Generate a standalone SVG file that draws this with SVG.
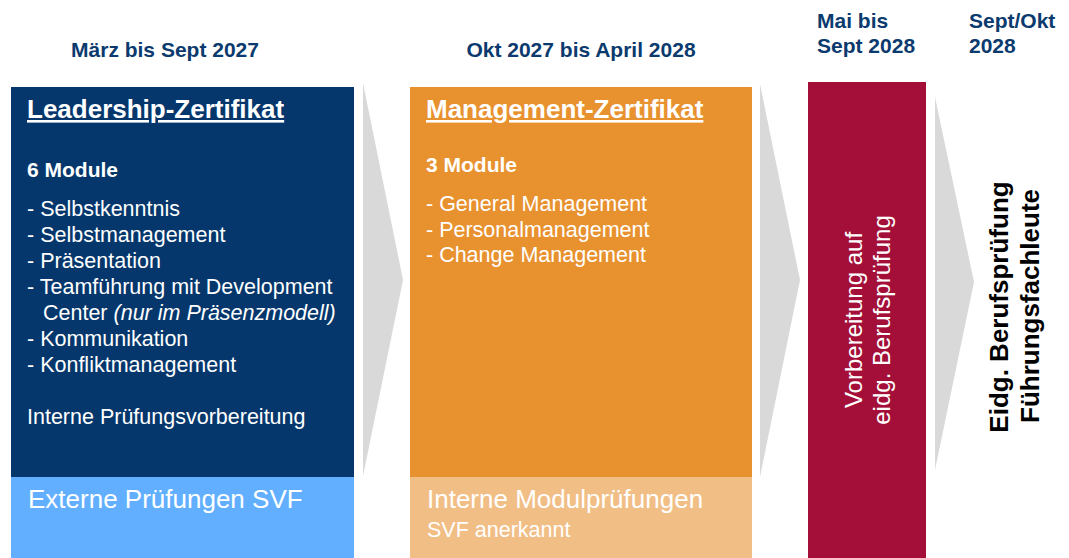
<svg xmlns="http://www.w3.org/2000/svg" width="1069" height="558" viewBox="0 0 1069 558">
<style>
text{font-family:"Liberation Sans",Arial,sans-serif;}
.hdr{font-size:21px;font-weight:bold;fill:#0B3A6E;}
.ttl{font-size:26px;font-weight:bold;fill:#fff;text-decoration:underline;}
.mod{font-size:21px;font-weight:bold;fill:#fff;}
.itm{font-size:21.5px;fill:#fff;}
.big{font-size:26px;fill:#fff;}
.arrow{fill:#D9D9D9;}
</style>
<rect width="1069" height="558" fill="#fff"/>
<g id="headers">
<text class="hdr" x="165" y="57" text-anchor="middle">März bis Sept 2027</text>
<text class="hdr" x="581" y="57" text-anchor="middle">Okt 2027 bis April 2028</text>
<text class="hdr" x="817" y="28">Mai bis</text>
<text class="hdr" x="817" y="53">Sept 2028</text>
<text class="hdr" x="969" y="28">Sept/Okt</text>
<text class="hdr" x="969" y="53">2028</text>
</g>
<g id="connectors">
<polygon class="arrow" points="363,83 403,280 363,476"/>
<polygon class="arrow" points="760,84 800,280 760,477"/>
<polygon class="arrow" points="935,97 974,282 935,470"/>
</g>
<g id="leadership">
<rect x="11" y="87" width="343" height="390" fill="#05376C"/>
<rect x="11" y="477" width="343" height="81" fill="#62AFFF"/>
<text class="ttl" x="27" y="118">Leadership-Zertifikat</text>
<text class="mod" x="27" y="177">6 Module</text>
<text class="itm" x="27" y="216">- Selbstkenntnis</text>
<text class="itm" x="27" y="242">- Selbstmanagement</text>
<text class="itm" x="27" y="268">- Präsentation</text>
<text class="itm" x="27" y="294">- Teamführung mit Development</text>
<text class="itm" x="43" y="320">Center <tspan font-style="italic">(nur im Präsenzmodell)</tspan></text>
<text class="itm" x="27" y="346">- Kommunikation</text>
<text class="itm" x="27" y="372">- Konfliktmanagement</text>
<text class="itm" x="27" y="424">Interne Prüfungsvorbereitung</text>
<text class="big" x="28" y="508">Externe Prüfungen SVF</text>
</g>
<g id="management">
<rect x="410" y="87" width="342" height="390" fill="#E8912F"/>
<rect x="410" y="477" width="342" height="81" fill="#F1BE86"/>
<text class="ttl" x="426" y="118">Management-Zertifikat</text>
<text class="mod" x="426" y="172">3 Module</text>
<text class="itm" x="426" y="211">- General Management</text>
<text class="itm" x="426" y="237">- Personalmanagement</text>
<text class="itm" x="426" y="262">- Change Management</text>
<text class="big" x="427" y="508">Interne Modulprüfungen</text>
<text class="itm" x="427" y="537">SVF anerkannt</text>
</g>
<g id="vorbereitung">
<rect x="808" y="82" width="118" height="476" fill="#A30F38"/>
<text font-size="24" fill="#fff" text-anchor="middle" transform="translate(862,320) rotate(-90)">Vorbereitung auf</text>
<text font-size="24" fill="#fff" text-anchor="middle" transform="translate(890,320) rotate(-90)">eidg. Berufsprüfung</text>
</g>
<g id="berufspruefung">
<text font-size="26" font-weight="bold" fill="#000" text-anchor="middle" transform="translate(1008,307) rotate(-90)">Eidg. Berufsprüfung</text>
<text font-size="26" font-weight="bold" fill="#000" text-anchor="middle" transform="translate(1039,306) rotate(-90)">Führungsfachleute</text>
</g>
</svg>
